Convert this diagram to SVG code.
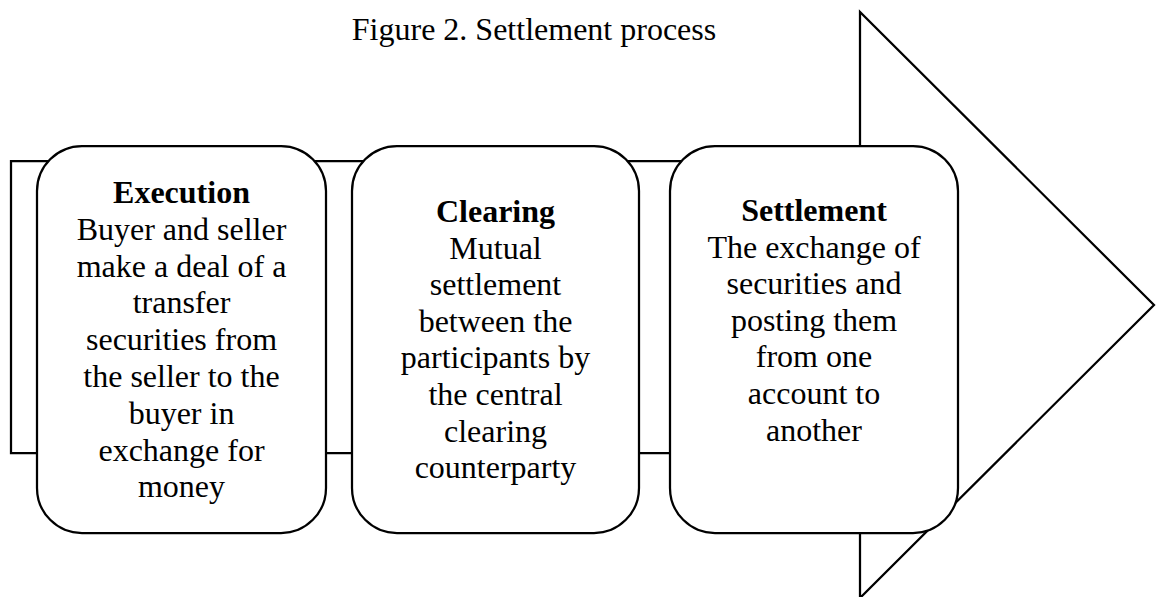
<svg xmlns="http://www.w3.org/2000/svg" width="1160" height="597" viewBox="0 0 1160 597">
<style>
.t{font-family:"Liberation Serif","Times New Roman",serif;font-size:32px;fill:#000;text-anchor:middle}
.b{font-weight:bold}
.box{fill:#fff;stroke:#000;stroke-width:2.25}
.arrow{fill:#fff;stroke:#000;stroke-width:2.25;stroke-linejoin:miter}
</style>
<rect width="1160" height="597" fill="#fff"/>
<text class="t" x="534" y="40">Figure 2. Settlement process</text>
<g id="connectors">
<path class="arrow" d="M11,161 L860,161 L860,12 L1154,305 L860,598 L860,453 L11,453 Z"/>
</g>
<g id="execution">
<rect class="box" x="37" y="146" width="289" height="387" rx="45" ry="45"/>
<text class="t" x="181.5" y="203"><tspan class="b" x="181.5">Execution</tspan><tspan x="181.5" dy="36.8">Buyer and seller</tspan><tspan x="181.5" dy="36.8">make a deal of a</tspan><tspan x="181.5" dy="36.8">transfer</tspan><tspan x="181.5" dy="36.8">securities from</tspan><tspan x="181.5" dy="36.8">the seller to the</tspan><tspan x="181.5" dy="36.8">buyer in</tspan><tspan x="181.5" dy="36.8">exchange for</tspan><tspan x="181.5" dy="36.8">money</tspan></text>
</g>
<g id="clearing">
<rect class="box" x="352" y="146" width="287" height="387" rx="45" ry="45"/>
<text class="t" x="495.5" y="222"><tspan class="b" x="495.5">Clearing</tspan><tspan x="495.5" dy="36.6">Mutual</tspan><tspan x="495.5" dy="36.6">settlement</tspan><tspan x="495.5" dy="36.6">between the</tspan><tspan x="495.5" dy="36.6">participants by</tspan><tspan x="495.5" dy="36.6">the central</tspan><tspan x="495.5" dy="36.6">clearing</tspan><tspan x="495.5" dy="36.6">counterparty</tspan></text>
</g>
<g id="settlement">
<rect class="box" x="670" y="146" width="288" height="387" rx="45" ry="45"/>
<text class="t" x="814" y="221"><tspan class="b" x="814">Settlement</tspan><tspan x="814" dy="36.6">The exchange of</tspan><tspan x="814" dy="36.6">securities and</tspan><tspan x="814" dy="36.6">posting them</tspan><tspan x="814" dy="36.6">from one</tspan><tspan x="814" dy="36.6">account to</tspan><tspan x="814" dy="36.6">another</tspan></text>
</g>
</svg>
